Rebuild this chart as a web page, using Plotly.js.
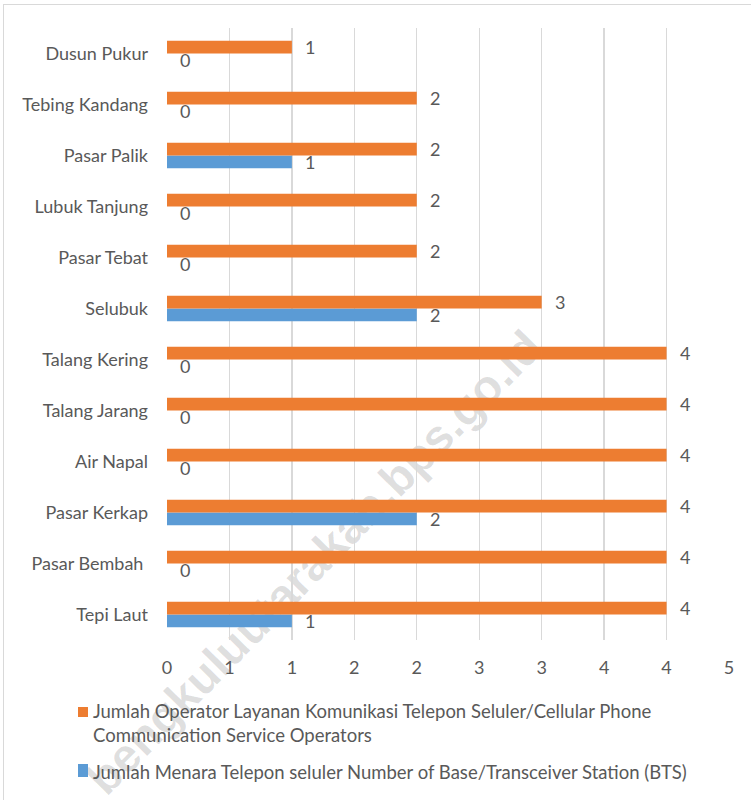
<!DOCTYPE html>
<html>
<head>
<meta charset="utf-8">
<script src="https://cdn.plot.ly/plotly-3.0.1.min.js"></script>
<style>
  html, body { margin: 0; padding: 0; background: #ffffff; }
  #wrap { position: relative; width: 751px; height: 800px; overflow: hidden; background: #ffffff; }
  #frame { position: absolute; left: 3px; top: 4px; width: 800px; height: 900px; border-left: 1px solid #d9d9d9; border-top: 1px solid #d9d9d9; }
  #wm { position: absolute; left: 314px; top: 562px; transform: translate(-50%, -50%) rotate(-45.6deg);
        font-family: "Liberation Sans", Arial, sans-serif; font-weight: bold; font-size: 47px;
        color: rgba(0,0,0,0.13); white-space: nowrap; }
  #chart { position: absolute; left: 0; top: 0; width: 751px; height: 800px; }
</style>
</head>
<body>
<div id="wrap">
  <div id="frame"></div>
  <div id="wm">bengkuluutarakab.bps.go.id</div>
  <div id="chart"></div>
</div>
<script>
// Categories listed bottom to top (Plotly draws the first category at the bottom)
const categories = ["Tepi Laut", "Pasar Bembah\u00a0", "Pasar Kerkap", "Air Napal", "Talang Jarang", "Talang Kering",
                    "Selubuk", "Pasar Tebat", "Lubuk Tanjung", "Pasar Palik", "Tebing Kandang", "Dusun Pukur"];
const operators = [4, 4, 4, 4, 4, 4, 3, 2, 2, 2, 2, 1];
const towers    = [1, 0, 2, 0, 0, 0, 2, 0, 0, 1, 0, 0];
const operatorsName = "Jumlah Operator Layanan Komunikasi Telepon Seluler/Cellular Phone<br>Communication Service Operators";
const towersName = "Jumlah Menara Telepon seluler Number of Base/Transceiver Station (BTS)";
const tickVals = [0, 0.5, 1, 1.5, 2, 2.5, 3, 3.5, 4, 4.5];
const tickLabels = ["0", "1", "1", "2", "2", "3", "3", "4", "4", "5"];

const orange = "#ED7D31";
const blue = "#5B9BD5";
const fontFam = "Lato, 'Open Sans', sans-serif";
const textCol = "#595959";
const fs = 18;

const traces = [
  { type: "bar", orientation: "h", name: towersName, y: categories, x: towers,
    marker: { color: blue }, hoverinfo: "x" },
  { type: "bar", orientation: "h", name: operatorsName, y: categories, x: operators,
    marker: { color: orange }, hoverinfo: "x" }
];

const annotations = [];
categories.forEach((c, i) => {
  annotations.push({ x: operators[i], y: c, xref: "x", yref: "y", text: String(operators[i]),
    showarrow: false, xanchor: "left", yanchor: "middle", xshift: 11, yshift: 6.5,
    font: { family: fontFam, size: fs, color: textCol } });
  annotations.push({ x: towers[i], y: c, xref: "x", yref: "y", text: String(towers[i]),
    showarrow: false, xanchor: "left", yanchor: "middle", xshift: 11, yshift: -6.5,
    font: { family: fontFam, size: fs, color: textCol } });
});

// Custom legend (Excel style: small square key, text close to it)
const legendEntries = [
  { name: operatorsName, color: orange, keyTop: -0.1095, keyBottom: -0.1258, textY: -0.1364 },
  { name: towersName, color: blue, keyTop: -0.2026, keyBottom: -0.2239, textY: -0.2157 }
];
const shapes = [];
legendEntries.forEach(e => {
  shapes.push({ type: "rect", xref: "paper", yref: "paper", x0: -0.1584, x1: -0.1406,
    y0: e.keyBottom, y1: e.keyTop, fillcolor: e.color, line: { width: 0 } });
  annotations.push({ xref: "paper", yref: "paper", x: -0.1352, y: e.textY, text: e.name,
    showarrow: false, xanchor: "left", yanchor: "middle", align: "left",
    font: { family: fontFam, size: 18.5, color: textCol } });
});

const layout = {
  width: 751, height: 800,
  margin: { l: 167, r: 22, t: 28, b: 160 },
  paper_bgcolor: "rgba(0,0,0,0)",
  plot_bgcolor: "rgba(0,0,0,0)",
  barmode: "group",
  bargap: 0.5,
  bargroupgap: 0,
  font: { family: fontFam, size: fs, color: textCol },
  xaxis: {
    range: [0, 4.5], tickmode: "array", tickvals: tickVals, ticktext: tickLabels,
    showgrid: true, gridcolor: "#d9d9d9", gridwidth: 1.3, zeroline: false,
    showline: false, ticks: "", ticklabelstandoff: 15,
    tickfont: { family: fontFam, size: fs, color: textCol }, fixedrange: true
  },
  yaxis: {
    type: "category", showgrid: false, zeroline: false, showline: false, ticks: "",
    ticklabelstandoff: 18, tickfont: { family: fontFam, size: fs, color: textCol }, fixedrange: true
  },
  showlegend: false,
  shapes: shapes,
  annotations: annotations
};

Plotly.newPlot("chart", traces, layout, { displayModeBar: false, staticPlot: true });
</script>
</body>
</html>
